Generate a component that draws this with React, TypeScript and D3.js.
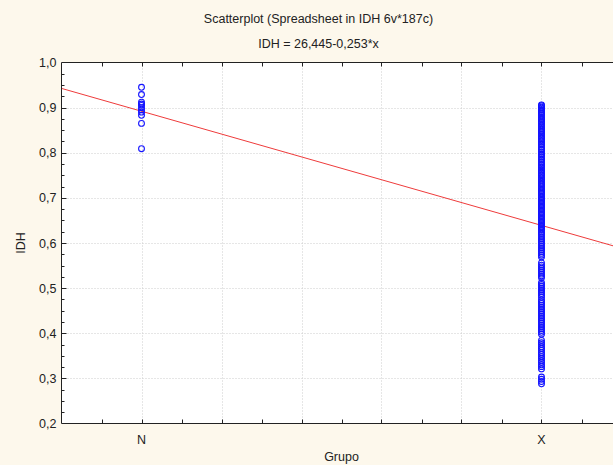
import React, { useEffect, useRef } from 'react';
import * as d3 from 'd3';

const title = 'Scatterplot (Spreadsheet in IDH 6v*187c)';
const subtitle = 'IDH = 26,445-0,253*x';
const xLabel = 'Grupo';
const yLabel = 'IDH';

// group codes on the x axis
const groups = [
  { code: 101, label: 'N' },
  { code: 102, label: 'X' },
];

// regression line IDH = a + b*x
const intercept = 26.445;
const slope = -0.253;

const idhN = [0.945, 0.929, 0.912, 0.908, 0.905, 0.9, 0.895, 0.89, 0.883, 0.865, 0.809];

const idhX = [
  0.906, 0.904, 0.901, 0.899, 0.896, 0.894, 0.891, 0.888, 0.886, 0.883, 0.879, 0.876,
  0.873, 0.87, 0.867, 0.864, 0.86, 0.857, 0.853, 0.85, 0.847, 0.844, 0.841, 0.837,
  0.834, 0.831, 0.827, 0.824, 0.82, 0.817, 0.813, 0.809, 0.806, 0.802, 0.798, 0.795,
  0.791, 0.787, 0.784, 0.78, 0.776, 0.773, 0.769, 0.766, 0.762, 0.759, 0.755, 0.752,
  0.749, 0.745, 0.742, 0.739, 0.735, 0.732, 0.729, 0.726, 0.722, 0.719, 0.716, 0.713,
  0.71, 0.707, 0.703, 0.7, 0.697, 0.694, 0.691, 0.688, 0.685, 0.682, 0.679, 0.676,
  0.673, 0.67, 0.667, 0.664, 0.661, 0.658, 0.655, 0.652, 0.649, 0.646, 0.643, 0.64,
  0.637, 0.634, 0.631, 0.628, 0.624, 0.621, 0.617, 0.613, 0.609, 0.605, 0.601, 0.597,
  0.593, 0.589, 0.585, 0.581, 0.577, 0.573, 0.569,
  0.556, 0.551, 0.547, 0.543, 0.539, 0.535, 0.531, 0.527, 0.523,
  0.512, 0.508, 0.504, 0.5, 0.496, 0.492, 0.488, 0.484, 0.48,
  0.474, 0.47, 0.466, 0.462, 0.458, 0.454, 0.45, 0.446, 0.442, 0.438, 0.434, 0.43,
  0.426, 0.422, 0.418, 0.414, 0.41, 0.406, 0.402, 0.398,
  0.384, 0.379, 0.375, 0.37, 0.366, 0.362, 0.357, 0.353, 0.348, 0.344, 0.339, 0.335,
  0.33, 0.326, 0.321,
  0.303, 0.298, 0.293, 0.288,
];

const yTicks = [0.2, 0.3, 0.4, 0.5, 0.6, 0.7, 0.8, 0.9, 1.0];

const App = () => {
  const svgRef = useRef<SVGSVGElement>(null);

  useEffect(() => {
    const svg = d3.select(svgRef.current);
    svg.selectAll('*').remove();

    const W = 613;
    const H = 465;
    const left = 61.5;
    const right = 621.5;
    const top = 62.5;
    const bottom = 423.5;
    const font = 'Liberation Sans, Arial, sans-serif';

    svg.append('rect').attr('width', W).attr('height', H).attr('fill', '#fdf8ec');
    svg.append('rect')
      .attr('x', left).attr('y', top)
      .attr('width', right - left).attr('height', bottom - top)
      .attr('fill', '#ffffff');

    const x = d3.scaleLinear().domain([100.8, 102.2]).range([left, right]);
    const y = d3.scaleLinear().domain([0.2, 1.0]).range([bottom, top]);

    // gridlines
    const xMajor = d3.range(101, 102.01, 0.2);
    const xMinor = d3.range(100.9, 102.2, 0.2);
    svg.append('g')
      .selectAll('line')
      .data(xMajor)
      .join('line')
      .attr('x1', d => Math.round(x(d)) + 0.5)
      .attr('x2', d => Math.round(x(d)) + 0.5)
      .attr('y1', top)
      .attr('y2', bottom)
      .attr('stroke', '#cccccc')
      .attr('stroke-dasharray', '1,2');
    svg.append('g')
      .selectAll('line')
      .data(yTicks.slice(1, -1))
      .join('line')
      .attr('x1', left)
      .attr('x2', right)
      .attr('y1', d => Math.round(y(d)) + 0.5)
      .attr('y2', d => Math.round(y(d)) + 0.5)
      .attr('stroke', '#cccccc')
      .attr('stroke-dasharray', '1,2');

    // regression line
    const reg = d3.line<number>()
      .x(d => x(d))
      .y(d => y(intercept + slope * d));
    svg.append('path')
      .datum([100.8, 102.2])
      .attr('fill', 'none')
      .attr('stroke', '#ee3b3b')
      .attr('stroke-width', 1)
      .attr('d', reg);

    // points
    const pts = [
      ...idhN.map(v => ({ g: groups[0].code, v })),
      ...idhX.map(v => ({ g: groups[1].code, v })),
    ];
    svg.append('g')
      .selectAll('circle')
      .data(pts)
      .join('circle')
      .attr('cx', d => x(d.g))
      .attr('cy', d => y(d.v))
      .attr('r', 2.9)
      .attr('fill', 'none')
      .attr('stroke', '#1414ff')
      .attr('stroke-width', 1.1);

    // frame
    const axis = svg.append('g').attr('stroke', '#222').attr('stroke-width', 1);
    axis.append('line').attr('x1', left).attr('x2', right).attr('y1', top).attr('y2', top);
    axis.append('line').attr('x1', left).attr('x2', right).attr('y1', bottom).attr('y2', bottom);
    axis.append('line').attr('x1', left).attr('x2', left).attr('y1', top).attr('y2', bottom);
    axis.append('line').attr('x1', right).attr('x2', right).attr('y1', top).attr('y2', bottom);

    // x ticks, top and bottom, pointing inward
    const xAll = [...xMajor, ...xMinor];
    xAll.forEach(t => {
      const px = Math.round(x(t)) + 0.5;
      axis.append('line').attr('x1', px).attr('x2', px).attr('y1', top).attr('y2', top + 4);
      axis.append('line').attr('x1', px).attr('x2', px).attr('y1', bottom).attr('y2', bottom - 4);
    });

    // y ticks pointing inward
    d3.range(0.225, 1.0, 0.025).forEach(t => {
      const major = yTicks.some(m => Math.abs(m - t) < 1e-6);
      const py = Math.round(y(t)) + 0.5;
      axis.append('line').attr('x1', left).attr('x2', left + (major ? 5 : 3)).attr('y1', py).attr('y2', py);
    });

    const fmt = (v: number) => v.toFixed(1).replace('.', ',');
    svg.append('g')
      .selectAll('text')
      .data(yTicks)
      .join('text')
      .attr('x', left - 5)
      .attr('y', d => y(d) + 4.5)
      .attr('text-anchor', 'end')
      .attr('font-family', font)
      .attr('font-size', 12.5)
      .attr('fill', '#222')
      .text(d => fmt(d));

    svg.append('g')
      .selectAll('text')
      .data(groups)
      .join('text')
      .attr('x', d => x(d.code))
      .attr('y', 444)
      .attr('text-anchor', 'middle')
      .attr('font-family', font)
      .attr('font-size', 12.5)
      .attr('fill', '#222')
      .text(d => d.label);

    // titles
    svg.append('text')
      .attr('x', 318.5).attr('y', 23)
      .attr('text-anchor', 'middle')
      .attr('font-family', font).attr('font-size', 12.5).attr('fill', '#222')
      .text(title);
    svg.append('text')
      .attr('x', 318.5).attr('y', 48)
      .attr('text-anchor', 'middle')
      .attr('font-family', font).attr('font-size', 12.5).attr('fill', '#222')
      .text(subtitle);
    svg.append('text')
      .attr('x', (left + right) / 2).attr('y', 461)
      .attr('text-anchor', 'middle')
      .attr('font-family', font).attr('font-size', 12.5).attr('fill', '#222')
      .text(xLabel);
    svg.append('text')
      .attr('transform', `translate(25,${(top + bottom) / 2}) rotate(-90)`)
      .attr('text-anchor', 'middle')
      .attr('font-family', font).attr('font-size', 12.5).attr('fill', '#222')
      .text(yLabel);
  }, []);

  return (
    <div style={{ position: 'absolute', left: 0, top: 0, width: 613, height: 465, overflow: 'hidden' }}>
      <svg ref={svgRef} width={613} height={465} style={{ display: 'block' }}></svg>
    </div>
  );
};

export default App;
